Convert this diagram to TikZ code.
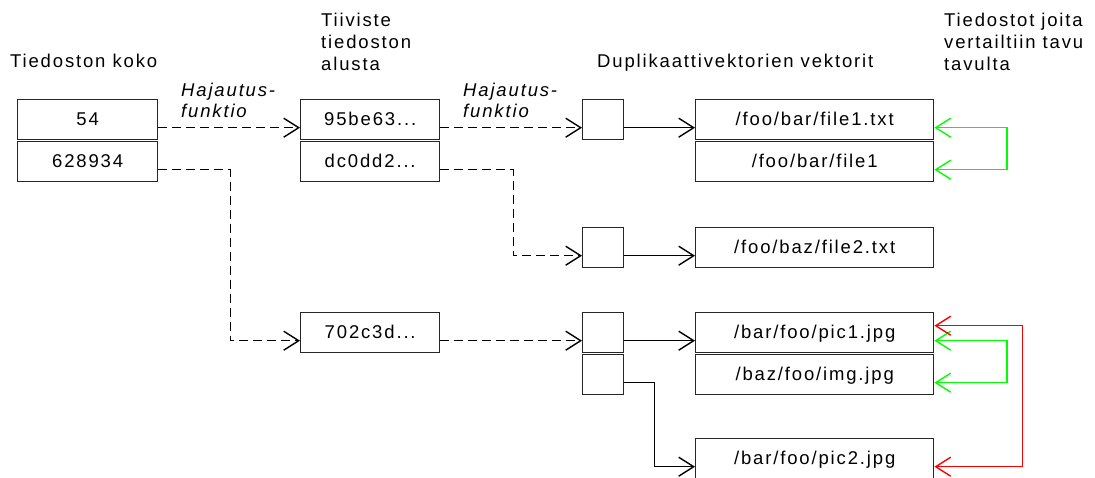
\documentclass[tikz,border=0pt]{standalone}
\usepackage{fontspec}
\setmainfont[LetterSpace=10]{Liberation Sans}
\usetikzlibrary{arrows.meta}
\begin{document}
\begin{tikzpicture}[x=1pt,y=-1pt,
		every node/.style={font=\fontsize{18.5}{22}\selectfont},
		cell/.style={draw=black!85,line width=1.4pt,anchor=north west,minimum height=40pt,
			inner sep=0pt,text height=14pt,text depth=3pt},
		keybox/.style={cell,minimum width=140pt},
		hashbox/.style={cell,minimum width=139pt},
		slot/.style={cell,minimum width=41pt},
		pathbox/.style={cell,minimum width=238pt},
		title/.style={anchor=base west,align=left,inner sep=0pt},
		hashline/.style={line width=1.4pt,dash pattern=on 9pt off 5pt,-{Straight Barb[length=15pt,width=19pt]}},
		link/.style={line width=1.4pt,-{Straight Barb[length=15pt,width=19pt]}},
		samefile/.style={green,line width=1.4pt,{Straight Barb[length=15pt,width=19pt]}-{Straight Barb[length=15pt,width=19pt]}},
		difffile/.style={red,line width=1.4pt,{Straight Barb[length=15pt,width=19pt]}-{Straight Barb[length=15pt,width=19pt]}}]
		\useasboundingbox (0,0) rectangle (1095,478);
		\node[title] (tsize) at (10,68) {Tiedoston koko};
		\node[title] (thash) at (321,71) {Tiiviste\\tiedoston\\alusta};
		\node[title] (tdup) at (597,68) {Duplikaattivektorien vektorit};
		\node[title] (tcmp) at (944,71) {Tiedostot joita\\vertailtiin tavu\\tavulta};
		\node[title,font=\fontsize{18.5}{21}\selectfont\itshape] (hf1) at (181,118) {Hajautus-\\funktio};
		\node[title,font=\fontsize{18.5}{21}\selectfont\itshape] (hf2) at (463,118) {Hajautus-\\funktio};
		\node[keybox] (k54) at (17,99) {54};
		\node[keybox] (k628) at (17,141) {628934};
		\node[hashbox] (h95) at (300,99) {95be63...};
		\node[hashbox] (hdc) at (300,141) {dc0dd2...};
		\node[hashbox] (h70) at (300,312) {702c3d...};
		\node[slot] (s1) at (582,99) {};
		\node[slot] (s2) at (582,227) {};
		\node[slot] (s3) at (582,312) {};
		\node[slot] (s4) at (582,354) {};
		\node[pathbox] (p1) at (695,99) {/foo/bar/file1.txt};
		\node[pathbox] (p2) at (695,141) {/foo/bar/file1};
		\node[pathbox] (p3) at (695,227) {/foo/baz/file2.txt};
		\node[pathbox] (p4) at (695,312) {/bar/foo/pic1.jpg};
		\node[pathbox] (p5) at (695,354) {/baz/foo/img.jpg};
		\node[pathbox] (p6) at (695,438) {/bar/foo/pic2.jpg};
		\draw[hashline] ([yshift=-8pt]k54.east) -- ([yshift=-8pt]h95.west);
		\draw[hashline] ([yshift=-8pt]k628.east) -- ++(72,0) |- ([yshift=-8pt]h70.west);
		\draw[hashline] ([yshift=-8pt]h95.east) -- ([yshift=-8pt]s1.west);
		\draw[hashline] ([yshift=-8pt]hdc.east) -- ++(73,0) |- ([yshift=-8pt]s2.west);
		\draw[hashline] ([yshift=-8pt]h70.east) -- ([yshift=-8pt]s3.west);
		\draw[link] ([yshift=-8pt]s1.east) -- ([yshift=-8pt]p1.west);
		\draw[link] ([yshift=-8pt]s2.east) -- ([yshift=-8pt]p3.west);
		\draw[link] ([yshift=-8pt]s3.east) -- ([yshift=-8pt]p4.west);
		\draw[link] ([yshift=-8pt]s4.east) -- ++(30,0) |- ([yshift=-8pt]p6.west);
		\draw[samefile] ([yshift=-8pt]p1.east) -- ++(72.5,0) |- ([yshift=-8pt]p2.east);
		\draw[samefile] ([yshift=-8pt]p4.east) -- ++(72.5,0) |- ([yshift=-8pt]p5.east);
		\draw[difffile] ([yshift=7pt]p4.east) -- ++(88,0) |- ([yshift=-8pt]p6.east);
\end{tikzpicture}
\end{document}
